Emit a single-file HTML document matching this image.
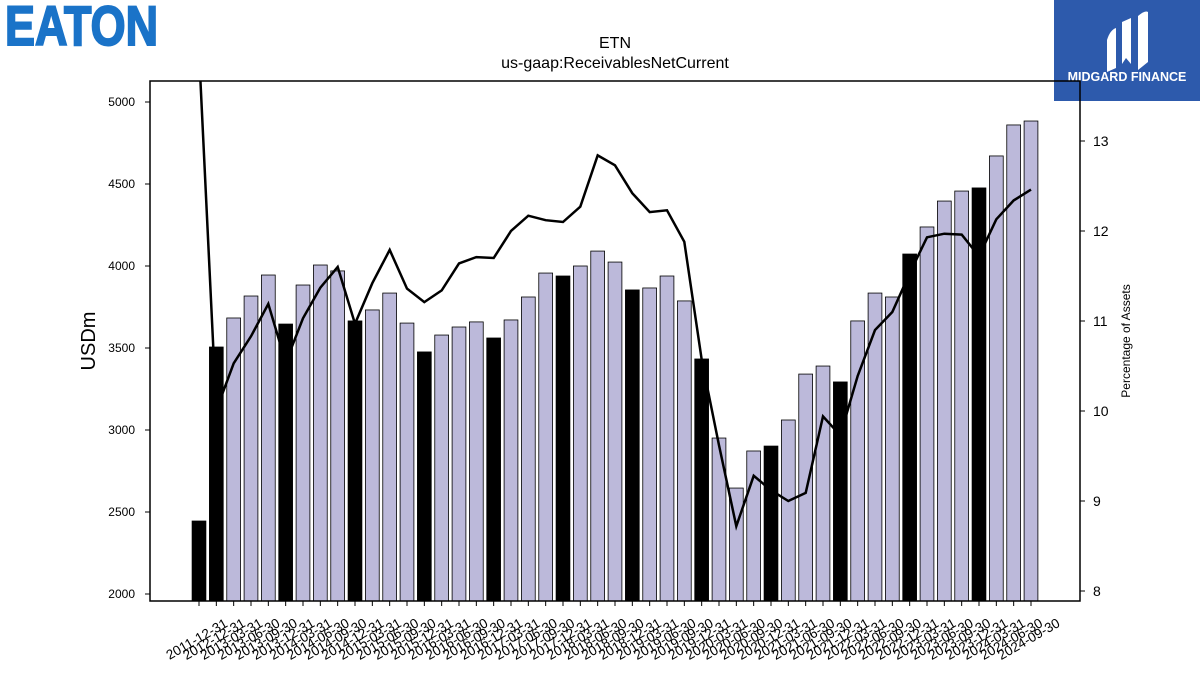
<!DOCTYPE html>
<html><head><meta charset="utf-8"><style>
body{margin:0;background:#fff;width:1200px;height:675px;overflow:hidden;font-family:"Liberation Sans","DejaVu Sans",sans-serif}
</style></head><body>
<svg id="c" width="1200" height="675" xmlns="http://www.w3.org/2000/svg">
<g>
<text x="5" y="45" font-family="Liberation Sans, sans-serif" font-weight="bold" font-size="56" fill="#1a73c8" stroke="#1a73c8" stroke-width="2" textLength="153" lengthAdjust="spacingAndGlyphs">EATON</text>
</g>
<g>
<rect x="1054" y="0" width="146" height="101" fill="#2d5aac"/>
<path d="M1107 40 Q1110 30 1116 28 L1116 68 L1107 72 Z" fill="#fff"/>
<path d="M1122 22 L1131 18 L1131 64 L1126 58 L1122 64 Z" fill="#fff"/>
<path d="M1138 16 Q1145 10 1148 12 L1148 62 L1138 70 Z" fill="#fff"/>
<text x="1127" y="81" text-anchor="middle" font-weight="bold" font-size="12.5" fill="#fff">MIDGARD FINANCE</text>
</g>
<text x="615" y="48" text-anchor="middle" font-size="16">ETN</text>
<text x="615" y="68" text-anchor="middle" font-size="16">us-gaap:ReceivablesNetCurrent</text>
<text transform="translate(95,341) rotate(-90)" text-anchor="middle" font-size="20">USDm</text>
<text transform="translate(1130,341) rotate(-90)" text-anchor="middle" font-size="12">Percentage of Assets</text>
<defs><clipPath id="pc"><rect x="150" y="81" width="930" height="520"/></clipPath></defs>
<g id="bars"></g><g id="line" clip-path="url(#pc)"></g><g id="axes"></g>
<rect x="150" y="81" width="930" height="520" fill="none" stroke="#000" stroke-width="1.5"/>
</svg>
<script>
const dates=["2011-12-31","2012-12-31","2013-03-31","2013-06-30","2013-09-30","2013-12-31","2014-03-31","2014-06-30","2014-09-30","2014-12-31","2015-03-31","2015-06-30","2015-09-30","2015-12-31","2016-03-31","2016-06-30","2016-09-30","2016-12-31","2017-03-31","2017-06-30","2017-09-30","2017-12-31","2018-03-31","2018-06-30","2018-09-30","2018-12-31","2019-03-31","2019-06-30","2019-09-30","2019-12-31","2020-03-31","2020-06-30","2020-09-30","2020-12-31","2021-03-31","2021-06-30","2021-09-30","2021-12-31","2022-03-31","2022-06-30","2022-09-30","2022-12-31","2023-03-31","2023-06-30","2023-09-30","2023-12-31","2024-03-31","2024-06-30","2024-09-30"];
const receivables=[2445,3506,3683,3817,3945,3646,3884,4006,3970,3665,3732,3835,3652,3476,3579,3628,3659,3561,3671,3811,3957,3939,4000,4091,4024,3854,3866,3939,3787,3433,2951,2646,2872,2902,3061,3341,3390,3293,3665,3835,3811,4073,4238,4396,4457,4476,4671,4860,4884];
const pctAssets=[14.0,10.01,10.53,10.83,11.19,10.54,11.03,11.37,11.6,10.97,11.42,11.79,11.36,11.21,11.34,11.64,11.71,11.7,12.0,12.17,12.12,12.1,12.27,12.84,12.73,12.42,12.21,12.23,11.88,10.57,9.62,8.72,9.28,9.12,9.0,9.09,9.94,9.73,10.39,10.9,11.1,11.53,11.93,11.97,11.96,11.72,12.13,12.34,12.46];
const leftTicks=[2000,2500,3000,3500,4000,4500,5000];
const rightTicks=[8,9,10,11,12,13];
const NS="http://www.w3.org/2000/svg";
const yL=v=>594-(v-2000)*0.164;
const yR=v=>591-(v-8)*90;
const xS=i=>199+i*(1031-199)/(dates.length-1);
const baseY=601;
function mk(t,a,p){const e=document.createElementNS(NS,t);for(const k in a)e.setAttribute(k,a[k]);p.appendChild(e);return e;}
const bars=document.getElementById('bars'),axes=document.getElementById('axes'),line=document.getElementById('line');
const bw=13.8;
dates.forEach((d,i)=>{
  const y=yL(receivables[i]);
  const r=mk('rect',{x:xS(i)-bw/2,y:y,width:bw,height:baseY-y,fill:d.endsWith('12-31')?'#000':'#bcb9da',stroke:'#000','stroke-width':0.8},bars);
  
  
  const tk=mk('line',{x1:xS(i),x2:xS(i),y1:601,y2:606,stroke:'#000'},axes);
  
  
  const t=mk('text',{'text-anchor':'middle','font-size':13.5,transform:`translate(${xS(i)},${643}) rotate(-30)`},axes);
  t.textContent=d;
  
  
});
const pts=pctAssets.map((v,i)=>xS(i).toFixed(1)+','+yR(v).toFixed(1)).join(' ');
const pl=mk('polyline',{points:pts,fill:'none',stroke:'#000','stroke-width':2.5},line);


leftTicks.forEach(v=>{
  const tk=mk('line',{x1:145,x2:150,y1:yL(v),y2:yL(v),stroke:'#000'},axes);
  
  
  const t=mk('text',{x:135,y:yL(v)+4,'text-anchor':'end','font-size':12},axes);
  t.textContent=v;
  
  
});
rightTicks.forEach(v=>{
  const tk=mk('line',{x1:1080,x2:1085,y1:yR(v),y2:yR(v),stroke:'#000'},axes);
  
  
  const t=mk('text',{x:1093,y:yR(v)+5,'font-size':14},axes);
  t.textContent=v;
  
  
});
</script>
</body></html>
